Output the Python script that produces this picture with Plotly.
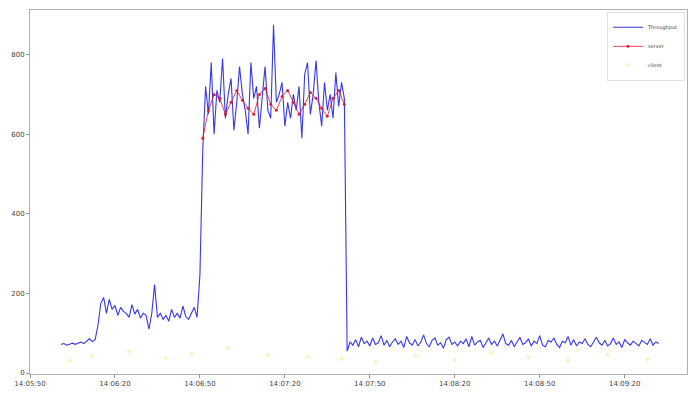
import datetime as dt
import plotly.graph_objects as go

# Throughput samples (one per second) and server / client measurements
start = dt.datetime(2021, 3, 4, 14, 5, 50)
throughput_offset = 11  # seconds after axis start
throughput = [
    72, 74, 70, 73, 75, 72, 76, 78, 74, 80, 86, 79, 84,
    120, 175, 190, 150, 185, 160, 170, 145, 165, 155, 150, 140, 172, 148, 160,
    138, 150, 145, 110, 150, 222, 140, 150, 135, 145, 130, 160, 140, 150, 138,
    168, 142, 135, 150, 165, 140, 246,
    560, 720, 650, 780, 600, 710, 680, 790, 640, 700, 740, 610, 680, 770, 700,
    660, 600, 780, 690, 720, 615, 700, 770, 660, 640, 875, 680, 700, 730, 620,
    680, 640, 700, 660, 720, 590, 750, 780, 650, 700, 785, 680, 620, 730, 660,
    700, 640, 755, 670, 730, 690,
    55, 78, 70, 84, 66, 90, 74, 80, 68, 88, 72, 76, 94, 70, 82, 66, 78, 86,
    72, 80, 64, 92, 76, 70, 84, 68, 78, 96, 74, 66, 82, 88, 70, 76, 62, 84,
    90, 72, 78, 68, 80, 74, 86, 66, 92, 70, 78, 82, 64, 76, 88, 72, 80, 68,
    84, 98, 74, 70, 82, 66, 78, 90, 72, 76, 86, 68, 80, 74, 94, 70, 66, 82,
    78, 88, 72, 64, 80, 76, 92, 70, 84, 68, 78, 74, 86, 72, 66, 80, 90, 76,
    70, 82, 68, 74, 88, 72, 78, 64, 84, 76, 70, 80, 74, 68, 82, 76, 72, 86,
    70, 78, 74,
]
server_offset = 61
server = [
    590, 660, 700, 690, 650, 680, 710, 685, 665, 650, 700, 715, 675, 660,
    695, 710, 680, 650, 675, 705, 690, 665, 645, 690, 710, 675,
]
client_times = [14, 22, 35, 48, 57, 70, 84, 98, 110, 122, 136, 150, 163,
                176, 190, 204, 218]
client = [30, 42, 55, 38, 48, 62, 45, 40, 36, 28, 44, 33, 50, 39, 31, 46, 35]


def ts(sec):
    return start + dt.timedelta(seconds=sec)


t_thr = [ts(throughput_offset + i) for i in range(len(throughput))]
t_srv = [ts(server_offset + 2 * i) for i in range(len(server))]
t_cli = [ts(s) for s in client_times]

fig = go.Figure()
fig.add_trace(go.Scatter(
    x=t_thr, y=throughput, mode="lines", name="Throughput",
    line=dict(color="rgba(20,20,235,0.85)", width=1.1),
))
fig.add_trace(go.Scatter(
    x=t_srv, y=server, mode="lines+markers", name="server",
    line=dict(color="rgba(230,20,40,0.8)", width=1),
    marker=dict(color="rgba(220,20,40,0.9)", size=3),
))
fig.add_trace(go.Scatter(
    x=t_cli, y=client, mode="markers", name="client",
    marker=dict(color="rgba(240,230,120,0.45)", size=4),
))

axis_common = dict(
    showgrid=False, zeroline=False, showline=True, mirror=True,
    linecolor="#b0b0b0", linewidth=1, ticks="outside", ticklen=3,
    tickcolor="#909090", tickfont=dict(family="DejaVu Sans", size=7,
                                       color="#444"),
)
fig.update_layout(
    width=697, height=397,
    margin=dict(l=30, r=9, t=10, b=12),
    paper_bgcolor="white", plot_bgcolor="white",
    showlegend=True,
    legend=dict(x=0.997, y=0.995, xanchor="right", yanchor="top",
                font=dict(family="DejaVu Sans", size=5, color="#444"),
                bgcolor="rgba(255,255,255,0.8)", bordercolor="#e0e0e0",
                borderwidth=1, tracegroupgap=0, itemwidth=30),
    xaxis=dict(axis_common, type="date", range=[ts(0), ts(232)],
               tick0=ts(0), dtick=30000, tickformat="%H:%M:%S"),
    yaxis=dict(axis_common, range=[-2.4, 912], tick0=0, dtick=200),
)

fig.write_html("out.html")
